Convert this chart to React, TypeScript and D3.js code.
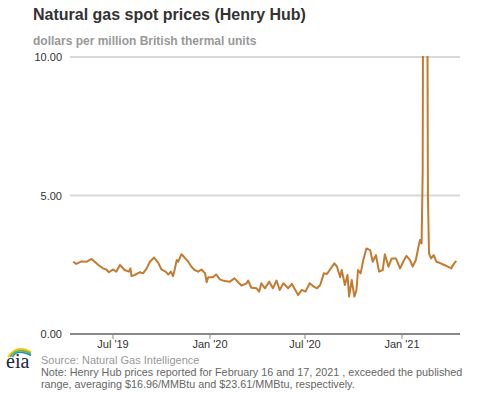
import { useRef, useEffect } from "react";
import * as d3 from "d3";

const dates = [
  "2019-04-16", "2019-04-22", "2019-05-02", "2019-05-12", "2019-05-21", "2019-05-27",
  "2019-06-03", "2019-06-12", "2019-06-18", "2019-06-23", "2019-07-01", "2019-07-07",
  "2019-07-14", "2019-07-23", "2019-07-31", "2019-08-03", "2019-08-05", "2019-08-11",
  "2019-08-21", "2019-08-27", "2019-09-03", "2019-09-09", "2019-09-17", "2019-09-25",
  "2019-10-01", "2019-10-09", "2019-10-14", "2019-10-19", "2019-10-23", "2019-10-26",
  "2019-10-30", "2019-11-02", "2019-11-08", "2019-11-14", "2019-11-21", "2019-11-27",
  "2019-12-03", "2019-12-10", "2019-12-16", "2019-12-23", "2019-12-26", "2019-12-29",
  "2020-01-07", "2020-01-13", "2020-01-20", "2020-01-29", "2020-02-08", "2020-02-17",
  "2020-02-24", "2020-03-01", "2020-03-11", "2020-03-14", "2020-03-20", "2020-03-30",
  "2020-04-04", "2020-04-08", "2020-04-15", "2020-04-23", "2020-04-30", "2020-05-07",
  "2020-05-13", "2020-05-20", "2020-05-29", "2020-06-05", "2020-06-17", "2020-06-24",
  "2020-07-01", "2020-07-09", "2020-07-17", "2020-07-23", "2020-07-29", "2020-08-05",
  "2020-08-11", "2020-08-16", "2020-08-25", "2020-08-30", "2020-09-05", "2020-09-08",
  "2020-09-14", "2020-09-19", "2020-09-22", "2020-09-27", "2020-10-02", "2020-10-06",
  "2020-10-09", "2020-10-14", "2020-10-19", "2020-10-25", "2020-11-01", "2020-11-06",
  "2020-11-12", "2020-11-18", "2020-11-25", "2020-11-29", "2020-12-06", "2020-12-12",
  "2020-12-20", "2020-12-28", "2021-01-03", "2021-01-09", "2021-01-16", "2021-01-21",
  "2021-01-27", "2021-02-01", "2021-02-04", "2021-02-07", "2021-02-09", "2021-02-11",
  "2021-02-16", "2021-02-19", "2021-02-21", "2021-02-25", "2021-03-02", "2021-03-07",
  "2021-03-13", "2021-03-22", "2021-03-29", "2021-04-04", "2021-04-10", "2021-04-14",
];

const prices = [
  2.61, 2.53, 2.62, 2.61, 2.71, 2.61,
  2.49, 2.37, 2.33, 2.23, 2.33, 2.25,
  2.49, 2.31, 2.25, 2.37, 2.09, 2.13,
  2.23, 2.19, 2.37, 2.61, 2.76, 2.57,
  2.33, 2.25, 2.15, 2.25, 2.09, 2.31,
  2.67, 2.61, 2.88, 2.76, 2.61, 2.43,
  2.31, 2.25, 2.33, 2.19, 1.87, 2.05,
  2.05, 2.15, 1.97, 1.91, 1.89, 2.01,
  1.87, 1.75, 1.83, 1.93, 1.67, 1.65,
  1.53, 1.83, 1.65, 1.89, 1.65, 1.93,
  1.59, 1.83, 1.65, 1.81, 1.41, 1.59,
  1.53, 1.83, 1.71, 1.65, 1.77, 2.19,
  2.17, 2.31, 2.55, 2.43, 2.05, 2.31,
  1.77, 2.13, 1.35, 1.95, 1.35, 1.59,
  2.31, 2.19, 2.67, 3.09, 3.03, 2.61,
  2.85, 2.25, 2.31, 2.88, 2.43, 2.73,
  2.73, 2.37, 2.61, 2.82, 2.67, 2.43,
  2.67, 3.15, 3.39, 3.27, 5.86, 23.86,
  23.61, 4.96, 2.91, 2.73, 2.85, 2.61,
  2.57, 2.49, 2.43, 2.37, 2.55, 2.64,
];

const yTicks = [0, 5, 10];
const xTickDates = ["2019-07-01", "2020-01-01", "2020-07-01", "2021-01-01"];
const xTickLabels = ["Jul '19", "Jan '20", "Jul '20", "Jan '21"];

const title = "Natural gas spot prices (Henry Hub)";
const subtitle = "dollars per million British thermal units";
const source = "Source: Natural Gas Intelligence";
const noteLines = [
  "Note: Henry Hub prices reported for February 16 and 17, 2021 , exceeded the published",
  "range, averaging $16.96/MMBtu and $23.61/MMBtu, respectively.",
];

const width = 477;
const height = 393;
const font = "'Liberation Sans', Arial, sans-serif";

export default function App() {
  const ref = useRef<SVGSVGElement | null>(null);

  useEffect(() => {
    const svg = d3.select(ref.current);
    svg.selectAll("*").remove();

    const parse = d3.utcParse("%Y-%m-%d");
    const points = dates.map((d, i) => ({ date: parse(d) as Date, v: prices[i] }));

    const x = d3
      .scaleUtc()
      .domain([parse("2019-04-10") as Date, parse("2021-04-21") as Date])
      .range([70, 460]);
    const y = d3.scaleLinear().domain([0, 10]).range([334, 57]);

    // gridlines
    svg
      .append("g")
      .selectAll("line")
      .data(yTicks.filter((t) => t > 0))
      .join("line")
      .attr("x1", 70)
      .attr("x2", 460)
      .attr("y1", (d) => y(d))
      .attr("y2", (d) => y(d))
      .attr("stroke", "#d9d9d9")
      .attr("stroke-width", 2);

    // y labels
    svg
      .append("g")
      .selectAll("text")
      .data(yTicks)
      .join("text")
      .attr("x", 62)
      .attr("y", (d) => y(d) + 4)
      .attr("text-anchor", "end")
      .attr("font-family", font)
      .attr("font-size", 11)
      .attr("fill", "#333")
      .text((d) => d3.format(".2f")(d));

    // x axis
    svg
      .append("line")
      .attr("x1", 70)
      .attr("x2", 460)
      .attr("y1", y(0))
      .attr("y2", y(0))
      .attr("stroke", "#888")
      .attr("stroke-width", 2);

    const xt = svg
      .append("g")
      .selectAll("g")
      .data(xTickDates)
      .join("g")
      .attr("transform", (d) => `translate(${Math.round(x(parse(d) as Date))},0)`);
    xt.append("line")
      .attr("y1", y(0))
      .attr("y2", y(0) + 5)
      .attr("stroke", "#888")
      .attr("stroke-width", 1);
    xt.append("text")
      .attr("y", 348)
      .attr("text-anchor", "middle")
      .attr("font-family", font)
      .attr("font-size", 11)
      .attr("fill", "#333")
      .text((_, i) => xTickLabels[i]);

    // price line, clipped to plot area
    svg
      .append("clipPath")
      .attr("id", "plot-clip")
      .append("rect")
      .attr("x", 60)
      .attr("y", y(10) - 1)
      .attr("width", 410)
      .attr("height", y(0) - y(10) + 1);

    const line = d3
      .line<{ date: Date; v: number }>()
      .x((d) => x(d.date))
      .y((d) => y(d.v));

    svg
      .append("path")
      .datum(points)
      .attr("clip-path", "url(#plot-clip)")
      .attr("fill", "none")
      .attr("stroke", "#c47b30")
      .attr("stroke-width", 2)
      .attr("stroke-linejoin", "round")
      .attr("d", line);

    // titles
    svg
      .append("text")
      .attr("x", 33)
      .attr("y", 20)
      .attr("font-family", font)
      .attr("font-size", 16)
      .attr("font-weight", "bold")
      .attr("fill", "#333")
      .text(title);
    svg
      .append("text")
      .attr("x", 33)
      .attr("y", 45)
      .attr("font-family", font)
      .attr("font-size", 12)
      .attr("font-weight", "bold")
      .attr("fill", "#999")
      .text(subtitle);

    // footer
    svg
      .append("text")
      .attr("x", 41)
      .attr("y", 364)
      .attr("font-family", font)
      .attr("font-size", 11)
      .attr("fill", "#999")
      .text(source);
    svg
      .append("g")
      .selectAll("text")
      .data(noteLines)
      .join("text")
      .attr("x", 41)
      .attr("y", (_, i) => 376 + i * 12)
      .attr("font-family", font)
      .attr("font-size", 10.8)
      .attr("fill", "#666")
      .text((d) => d);

    // eia logo
    const logo = svg.append("g");
    const arcs = [
      { c: "#f2c500", dy: 0 },
      { c: "#6fb43f", dy: 2.2 },
      { c: "#1a8fc9", dy: 4.4 },
    ];
    logo
      .selectAll("path")
      .data(arcs)
      .join("path")
      .attr("fill", "none")
      .attr("stroke", (d) => d.c)
      .attr("stroke-width", 1.6)
      .attr("d", (d) => `M ${8 + d.dy} ${357} Q ${17} ${344 + d.dy} ${31} ${352 + d.dy * 0.8}`);
    logo
      .append("text")
      .attr("x", 6)
      .attr("y", 368)
      .attr("font-family", "'Liberation Serif', 'DejaVu Serif', serif")
      .attr("font-size", 20)
      .attr("fill", "#1c2340")
      .text("eia");
  }, []);

  return (
    <svg
      ref={ref}
      width={width}
      height={height}
      style={{ position: "absolute", left: 0, top: 0, background: "#fff" }}
    />
  );
}
